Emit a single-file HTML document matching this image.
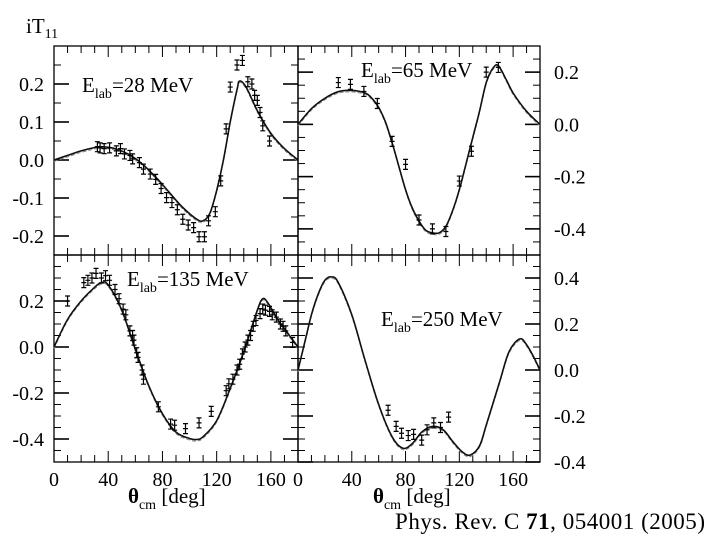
<!DOCTYPE html>
<html><head><meta charset="utf-8"><style>
body{margin:0;background:#fff;width:720px;height:540px;overflow:hidden}
svg{display:block;font-family:"Liberation Serif",serif}
</style></head><body>
<svg id="chart" width="720" height="540" viewBox="0 0 720 540">
<text x="26" y="33" font-size="21">iT<tspan font-size="14" dy="5">11</tspan></text>
<text x="128" y="503" font-size="21"><tspan font-weight="bold">θ</tspan><tspan font-size="14" dy="6">cm</tspan><tspan dy="-6"> [deg]</tspan></text>
<text x="373" y="503" font-size="21"><tspan font-weight="bold">θ</tspan><tspan font-size="14" dy="6">cm</tspan><tspan dy="-6"> [deg]</tspan></text>
<text x="395" y="529" font-size="23" textLength="310">Phys. Rev. C <tspan font-weight="bold">71</tspan>, 054001 (2005)</text>
</svg>
<script>
const curveX28=[0,10,20,30,35,45,55,65,75,85,95,105,110,115,120,125,130,135,137,142,150,160,170,180];
const curveY28=[0,0.012,0.024,0.033,0.035,0.03,0.015,-0.01,-0.045,-0.085,-0.125,-0.155,-0.16,-0.14,-0.08,0.0,0.1,0.185,0.208,0.19,0.13,0.07,0.03,0];
const dataX28=[32,34,37,41,46,49,52,56,58,63,66,71,75,79,83,87,91,95,99,103,107,111,114,119,123,127,130,135,139,143,146,148,150,152,154,159];
const dataY28=[0.035,0.032,0.03,0.032,0.024,0.03,0.016,0.012,0.003,-0.007,-0.024,-0.037,-0.051,-0.075,-0.099,-0.112,-0.131,-0.156,-0.171,-0.178,-0.202,-0.202,-0.16,-0.136,-0.055,0.082,0.192,0.25,0.262,0.206,0.2,0.17,0.157,0.125,0.09,0.05];
const curveX65=[0,10,20,30,40,50,55,60,65,70,75,80,85,90,95,100,105,110,115,120,125,130,135,140,145,149,155,160,170,180];
const curveY65=[0,0.06,0.1,0.125,0.13,0.12,0.1,0.065,0.01,-0.07,-0.16,-0.25,-0.32,-0.37,-0.405,-0.415,-0.415,-0.39,-0.33,-0.25,-0.15,-0.05,0.05,0.16,0.215,0.225,0.17,0.12,0.05,0];
const dataX65=[30,39,49,59,70,80,90,100,110,120,129,140,149];
const dataY65=[0.16,0.153,0.126,0.08,-0.065,-0.153,-0.366,-0.4,-0.41,-0.217,-0.103,0.2,0.218];
const curveX135=[0,10,20,30,35,40,50,60,70,80,90,100,105,110,120,130,140,150,154,158,165,170,180];
const curveY135=[0,0.12,0.2,0.26,0.28,0.27,0.16,-0.01,-0.17,-0.29,-0.37,-0.398,-0.402,-0.39,-0.32,-0.18,-0.02,0.16,0.21,0.19,0.12,0.08,0];
const dataX135=[10,22,25,28,31,35,38,41,45,48,51,53,56,58,59,61,62,65,66,77,86,89,97,107,116,127,129,132,135,137,139,141,143,145,147,149,152,154,156,159,161,164,167,169,171,176];
const dataY135=[0.2,0.28,0.29,0.3,0.32,0.3,0.31,0.29,0.25,0.21,0.165,0.14,0.07,0.05,0.03,-0.025,-0.045,-0.1,-0.14,-0.26,-0.335,-0.34,-0.355,-0.33,-0.28,-0.19,-0.16,-0.14,-0.1,-0.075,-0.03,0.0,0.03,0.05,0.09,0.115,0.145,0.165,0.16,0.155,0.14,0.13,0.1,0.09,0.07,0.02];
const curveX250=[0,5,10,15,20,25,30,40,50,60,70,78,85,92,100,108,115,122,128,135,140,150,157,165,170,175,180];
const curveY250=[0,0.12,0.24,0.33,0.39,0.405,0.38,0.24,0.04,-0.15,-0.29,-0.34,-0.32,-0.27,-0.245,-0.26,-0.31,-0.355,-0.37,-0.33,-0.24,-0.05,0.08,0.135,0.11,0.06,0];
const dataX250=[67,73,77,82,86,92,96,101,106,112];
const dataY250=[-0.175,-0.245,-0.275,-0.285,-0.28,-0.305,-0.26,-0.23,-0.25,-0.205];
const xTicks=[0,40,80,120,160];
const yTicks28=["-0.2","-0.1","0.0","0.1","0.2"];
const yTicks65=["-0.4","-0.2","0.0","0.2"];
const yTicks135=["-0.4","-0.2","0.0","0.2"];
const yTicks250=["-0.4","-0.2","0.0","0.2","0.4"];

const svg=document.getElementById('chart');
const NS='http://www.w3.org/2000/svg';
function mk(tag,attrs,parent){const e=document.createElementNS(NS,tag);for(const k in attrs)e.setAttribute(k,attrs[k]);(parent||svg).appendChild(e);return e;}
function smooth(P){
  let d='M'+P[0][0].toFixed(1)+','+P[0][1].toFixed(1);
  for(let i=0;i<P.length-1;i++){
    const p0=P[Math.max(0,i-1)],p1=P[i],p2=P[i+1],p3=P[Math.min(P.length-1,i+2)];
    const c1=[p1[0]+(p2[0]-p0[0])/6,p1[1]+(p2[1]-p0[1])/6];
    const c2=[p2[0]-(p3[0]-p1[0])/6,p2[1]-(p3[1]-p1[1])/6];
    d+='C'+c1[0].toFixed(1)+','+c1[1].toFixed(1)+' '+c2[0].toFixed(1)+','+c2[1].toFixed(1)+' '+p2[0].toFixed(1)+','+p2[1].toFixed(1);
  }
  return d;
}
function panel(o){
  const g=mk('g',{});
  
  
  const sx=v=>o.x0+(v/180)*(o.x1-o.x0);
  const sy=v=>o.y1-(v-o.ymin)/(o.ymax-o.ymin)*(o.y1-o.y0);
  const frame=mk('rect',{x:o.x0,y:o.y0,width:o.x1-o.x0,height:o.y1-o.y0,fill:'none',stroke:'#000','stroke-width':1.3},g);
  
  
  for(let d=0;d<=180;d+=10){
    const L=(d%40===0)?11:7;
    mk('line',{x1:sx(d),x2:sx(d),y1:o.y0,y2:o.y0+L,stroke:'#000','stroke-width':1},g);
    mk('line',{x1:sx(d),x2:sx(d),y1:o.y1,y2:o.y1-L,stroke:'#000','stroke-width':1},g);
  }
  for(let v=Math.ceil(o.ymin/0.05)*0.05;v<=o.ymax+1e-9;v+=0.05){
    const major=o.yt.some(t=>Math.abs(parseFloat(t)-v)<1e-6);
    const L=major?15:7;
    mk('line',{x1:o.x0,x2:o.x0+L,y1:sy(v),y2:sy(v),stroke:'#000','stroke-width':major?1.6:1},g);
    mk('line',{x1:o.x1,x2:o.x1-L,y1:sy(v),y2:sy(v),stroke:'#000','stroke-width':major?1.6:1},g);
  }
  o.yt.forEach(t=>{
    const tx=mk('text',{x:o.labelRight?o.x1+14:o.x0-10,y:sy(parseFloat(t))+7,'font-size':20,'text-anchor':o.labelRight?'start':'end'},g);
    
    
    tx.textContent=t;
  });
  if(o.xlabels){xTicks.forEach(t=>{
    const tx=mk('text',{x:sx(t),y:o.y1+24,'font-size':20,'text-anchor':'middle'},g);
    
    
    tx.textContent=t;
  });}
  const P=o.cx.map((x,i)=>[sx(x),sy(o.cy[i])]);
  const P2=o.cx.map((x,i)=>[sx(x),sy(o.cy[i])+1.5]);
  const c2=mk('path',{d:smooth(P2),fill:'none',stroke:'#888','stroke-width':1,'stroke-dasharray':'4,2'},g);
  
  
  const c=mk('path',{d:smooth(P),fill:'none',stroke:'#111','stroke-width':1.6,'stroke-linejoin':'round'},g);
  
  
  o.dx.forEach((x,i)=>{
    const px=sx(x),py=sy(o.dy[i]),e=5;
    const p=mk('path',{d:`M${px-2.5},${py-e}H${px+2.5}M${px},${py-e}V${py+e}M${px-2.5},${py+e}H${px+2.5}M${px-2.5},${py}H${px+2.5}`,stroke:'#000','stroke-width':1.2,fill:'none'},g);
    
    
  });
  const lb=mk('text',{x:o.lx,y:o.ly,'font-size':21},g);
  
  
  lb.innerHTML='E<tspan font-size="14" dy="6">lab</tspan><tspan dy="-6">='+o.label+'</tspan>';
}
panel({name:'panel-28mev',x0:54,x1:298,y0:46,y1:255,ymin:-0.25,ymax:0.3,yt:yTicks28,cx:curveX28,cy:curveY28,dx:dataX28,dy:dataY28,lx:82,ly:92,label:'28 MeV'});
panel({name:'panel-65mev',x0:298,x1:540,y0:46,y1:255,ymin:-0.5,ymax:0.3,yt:yTicks65,labelRight:true,cx:curveX65,cy:curveY65,dx:dataX65,dy:dataY65,lx:361,ly:77,label:'65 MeV'});
panel({name:'panel-135mev',x0:54,x1:298,y0:255,y1:462,ymin:-0.5,ymax:0.4,yt:yTicks135,xlabels:true,cx:curveX135,cy:curveY135,dx:dataX135,dy:dataY135,lx:127,ly:286,label:'135 MeV'});
panel({name:'panel-250mev',x0:298,x1:540,y0:255,y1:462,ymin:-0.4,ymax:0.5,yt:yTicks250,labelRight:true,xlabels:true,cx:curveX250,cy:curveY250,dx:dataX250,dy:dataY250,lx:381,ly:326,label:'250 MeV'});
</script>
</body></html>
